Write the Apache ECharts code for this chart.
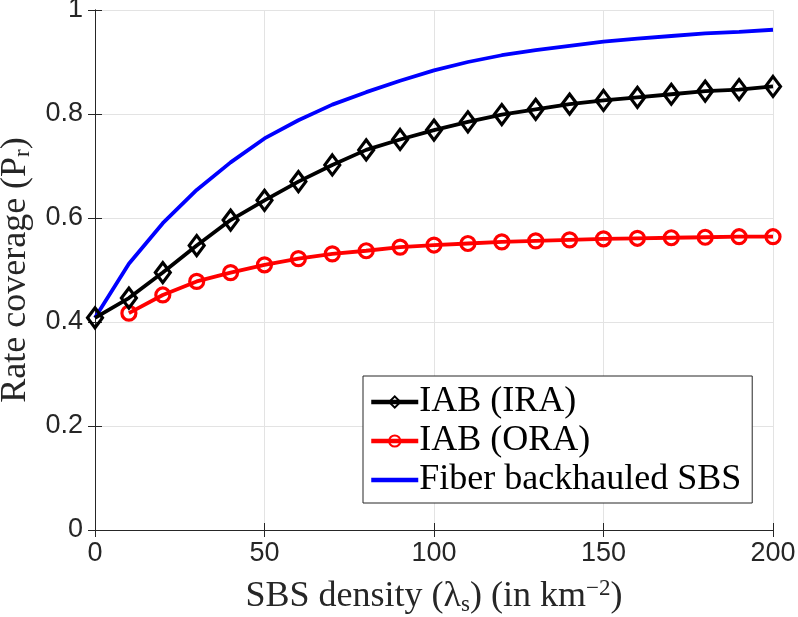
<!DOCTYPE html>
<html>
<head>
<meta charset="utf-8">
<script src="https://cdn.jsdelivr.net/npm/echarts@6/dist/echarts.min.js"></script>
<style>
  html, body { margin: 0; padding: 0; background: #fff; }
  #chart { width: 798px; height: 617px; }
</style>
</head>
<body>
<div id="chart"></div>
<script>
// SBS density (per km^2)
const densities = [0, 10, 20, 30, 40, 50, 60, 70, 80, 90, 100, 110, 120, 130, 140, 150, 160, 170, 180, 190, 200]

// rate coverage per scheme
const iabIra = [0.408, 0.446, 0.495, 0.547, 0.596, 0.634, 0.670, 0.702, 0.731, 0.751, 0.769, 0.785, 0.799, 0.809, 0.819, 0.826, 0.832, 0.838, 0.844, 0.847, 0.853]
const iabOra = [null, 0.417, 0.452, 0.478, 0.495, 0.510, 0.522, 0.531, 0.537, 0.544, 0.548, 0.551, 0.554, 0.556, 0.558, 0.560, 0.561, 0.562, 0.563, 0.564, 0.564]
const fiber = [0.408, 0.512, 0.590, 0.654, 0.707, 0.753, 0.788, 0.818, 0.842, 0.864, 0.884, 0.900, 0.913, 0.923, 0.931, 0.939, 0.945, 0.950, 0.955, 0.958, 0.962]

const xTicks = [0, 50, 100, 150, 200]
const yTicks = [0, 0.2, 0.4, 0.6, 0.8, 1]

const toPairs = (ys) => densities.map((x, i) => [x, ys[i]]).filter((p) => p[1] !== null)

const axisColor = '#262626'
const serif = 'Liberation Serif'
const sans = 'Liberation Sans'
const titleSize = 36
const smallSize = 23

const chart = echarts.init(document.getElementById('chart'), null, { renderer: 'canvas' })

const sideAxis = (pos) => ({
    position: pos,
    axisLine: { show: true, lineStyle: { color: axisColor, width: 1 } },
    axisTick: { show: true, inside: true, length: 7, lineStyle: { color: axisColor } },
    axisLabel: { show: false },
    splitLine: { show: false },
})

chart.setOption({
    animation: false,
    backgroundColor: '#fff',
    grid: { left: 95, right: 25, top: 10, bottom: 87, containLabel: false, outerBoundsMode: 'none' },
    xAxis: [
        {
            type: 'value',
            min: 0,
            max: 200,
            interval: 50,
            position: 'bottom',
            name: 'SBS density ({it|λ}{sub|s}) (in km{sup|−2})',
            nameLocation: 'middle',
            nameGap: 47,
            nameTextStyle: {
                fontFamily: serif,
                fontSize: titleSize,
                color: axisColor,
                rich: {
                    it: { fontFamily: serif, fontSize: titleSize, color: axisColor },
                    sub: { fontFamily: serif, fontSize: smallSize, color: axisColor, verticalAlign: 'bottom', padding: [16, 0, 0, 0] },
                    sup: { fontFamily: serif, fontSize: smallSize, color: axisColor, verticalAlign: 'top', padding: [0, 0, 16, 0] },
                },
            },
            axisLine: { show: true, lineStyle: { color: axisColor, width: 1 } },
            axisTick: { show: true, inside: true, length: 7, lineStyle: { color: axisColor } },
            axisLabel: { fontFamily: sans, fontSize: 27, color: axisColor, margin: 10 },
            splitLine: { show: true, lineStyle: { color: '#e3e3e3', width: 1 } },
        },
        Object.assign({ type: 'value', min: 0, max: 200, interval: 50 }, sideAxis('top')),
    ],
    yAxis: [
        {
            type: 'value',
            min: 0,
            max: 1,
            interval: 0.2,
            position: 'left',
            name: 'Rate coverage (P{sub|r})',
            nameLocation: 'middle',
            nameRotate: 90,
            nameGap: 58,
            nameTextStyle: {
                fontFamily: serif,
                fontSize: titleSize,
                color: axisColor,
                rich: {
                    sub: { fontFamily: serif, fontSize: smallSize, color: axisColor, verticalAlign: 'bottom', padding: [16, 0, 0, 0] },
                },
            },
            axisLine: { show: true, lineStyle: { color: axisColor, width: 1 } },
            axisTick: { show: true, inside: true, length: 7, lineStyle: { color: axisColor } },
            axisLabel: {
                fontFamily: sans,
                fontSize: 27,
                color: axisColor,
                margin: 12,
                formatter: (v) => (v === 0 || v === 1 ? String(v) : v.toFixed(1)),
            },
            splitLine: { show: true, lineStyle: { color: '#e3e3e3', width: 1 } },
        },
        Object.assign({ type: 'value', min: 0, max: 1, interval: 0.2 }, sideAxis('right')),
    ],
    legend: {
        orient: 'vertical',
        left: 363,
        top: 376,
        padding: [8, 11, 5, 6],
        itemGap: 3,
        itemWidth: 47,
        itemHeight: 14,
        backgroundColor: '#fff',
        borderColor: axisColor,
        borderWidth: 1,
        borderRadius: 0,
        lineStyle: { width: 4.5 },
        textStyle: { fontFamily: serif, fontSize: titleSize, color: '#000', padding: [0, 0, 0, -4] },
        data: ['IAB (IRA)', 'IAB (ORA)', 'Fiber backhauled SBS'],
    },
    series: [
        {
            name: 'IAB (IRA)',
            type: 'line',
            data: toPairs(iabIra),
            symbol: 'diamond',
            symbolSize: [15, 20],
            lineStyle: { color: '#000', width: 3.8 },
            itemStyle: { color: 'transparent', borderColor: '#000', borderWidth: 3.2 },
            z: 3,
        },
        {
            name: 'IAB (ORA)',
            type: 'line',
            data: toPairs(iabOra),
            symbol: 'circle',
            symbolSize: 14,
            lineStyle: { color: '#ff0000', width: 3.8 },
            itemStyle: { color: 'transparent', borderColor: '#ff0000', borderWidth: 3.2 },
            z: 2,
        },
        {
            name: 'Fiber backhauled SBS',
            type: 'line',
            data: toPairs(fiber),
            symbol: 'line',
            showSymbol: false,
            lineStyle: { color: '#0000ff', width: 3.8 },
            itemStyle: { color: '#0000ff', borderColor: '#0000ff', borderWidth: 4.5 },
            z: 1,
        },
    ],
})
</script>
</body>
</html>
